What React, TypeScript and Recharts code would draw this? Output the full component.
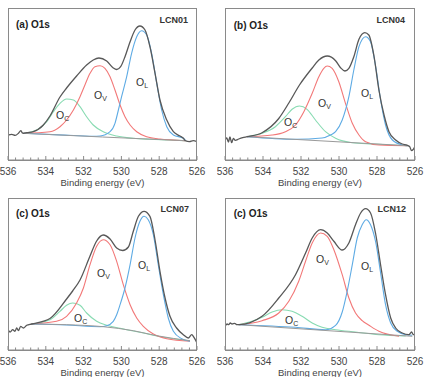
import { LineChart, Line, XAxis, YAxis, Label } from 'recharts';

type Pair = [number, number];

// binding energy (eV) / intensity (a.u.) pairs
const envA: Pair[] = [
  [536.0, 25.0], [535.8, 25.7], [535.62, 24.7], [535.45, 26.7], [535.32, 29.3], [535.25, 27.3],
  [535.19, 26.7], [535.0, 27.3], [534.66, 28.3], [534.13, 35.0], [533.78, 44.0], [533.25, 63.0],
  [532.9, 72.0], [532.37, 84.0], [531.84, 95.0], [531.49, 100.0], [531.19, 102.0], [530.78, 99.0],
  [530.43, 92.0], [530.25, 90.5], [530.04, 93.3], [529.81, 103.3], [529.54, 118.3], [529.28, 130.0],
  [529.02, 134.0], [528.75, 130.0], [528.49, 113.3], [528.22, 86.7], [527.96, 60.0], [527.6, 40.0],
  [527.25, 28.3], [526.9, 24.0], [526.72, 21.7], [526.62, 19.3], [526.4, 18.3], [526.2, 19.3], [526.0, 18.3],
];
const ocA: Pair[] = [
  [535.19, 26.7], [534.48, 30.0], [533.95, 38.3], [533.6, 48.3], [533.25, 56.7], [532.9, 61.0],
  [532.54, 60.0], [532.19, 53.3], [531.84, 43.3], [531.49, 35.0], [530.96, 28.3], [530.25, 24.0],
  [529.37, 21.7], [528.49, 20.7], [527.5, 20.0], [526.62, 19.3],
];
const ovA: Pair[] = [
  [535.19, 26.7], [533.78, 28.3], [533.25, 33.3], [532.9, 40.0], [532.54, 50.0], [532.19, 63.3],
  [531.93, 75.0], [531.66, 86.7], [531.4, 93.3], [531.13, 94.3], [530.87, 91.7], [530.6, 83.3],
  [530.34, 70.0], [530.07, 55.0], [529.81, 43.3], [529.54, 35.0], [529.19, 28.3], [528.66, 23.3],
  [527.96, 21.0], [527.25, 20.0], [526.62, 19.3],
];
const olA: Pair[] = [
  [535.19, 26.7], [533.0, 24.9], [531.5, 23.8], [531.13, 24.0], [530.6, 28.3], [530.34, 36.7],
  [530.16, 50.0], [529.99, 63.3], [529.72, 83.3], [529.46, 106.7], [529.19, 123.3], [528.93, 129.3],
  [528.66, 125.0], [528.4, 106.7], [528.13, 76.7], [527.87, 50.0], [527.6, 33.3], [527.25, 25.0],
  [526.72, 21.7], [526.62, 20.0],
];
const bgA: Pair[] = [[535.19, 26.7], [531.0, 23.0], [526.62, 19.3]];

const envB: Pair[] = [
  [536.0, 20.0], [535.91, 22.0], [535.82, 18.0], [535.74, 23.0], [535.65, 17.3], [535.56, 21.7],
  [535.46, 19.7], [535.28, 21.0], [535.07, 22.3], [534.84, 23.3], [534.05, 27.3], [533.17, 41.5],
  [532.64, 57.0], [532.08, 75.0], [531.41, 92.0], [531.06, 100.0], [530.62, 104.0], [530.18, 99.3],
  [529.92, 92.3], [529.69, 89.0], [529.48, 91.7], [529.22, 103.3], [528.95, 120.7], [528.64, 127.3],
  [528.43, 125.0], [528.16, 104.0], [527.9, 70.0], [527.63, 45.0], [527.37, 28.3], [527.02, 20.0],
  [526.67, 16.0], [526.4, 14.7], [526.28, 13.3], [526.18, 9.3], [526.09, 10.7], [526.0, 13.3],
];
const ocB: Pair[] = [
  [534.84, 23.3], [534.05, 26.7], [533.35, 33.3], [532.82, 43.3], [532.47, 50.7], [532.08, 54.0],
  [531.68, 50.7], [531.24, 40.0], [530.71, 28.3], [530.18, 21.7], [529.3, 17.3], [528.25, 16.0], [526.4, 14.3],
];
const ovB: Pair[] = [
  [534.84, 23.3], [533.52, 25.0], [532.82, 28.3], [532.29, 35.0], [531.85, 48.3], [531.41, 66.7],
  [531.06, 83.3], [530.8, 91.7], [530.62, 94.0], [530.36, 91.7], [530.01, 78.3], [529.66, 56.7],
  [529.3, 36.7], [528.95, 25.0], [528.6, 18.3], [527.9, 15.0], [526.4, 14.3],
];
const olB: Pair[] = [
  [534.84, 23.3], [532.29, 20.7], [530.89, 22.0], [530.45, 25.0], [530.18, 28.3], [529.83, 40.0],
  [529.48, 63.3], [529.22, 90.0], [528.95, 113.3], [528.6, 123.3], [528.34, 118.3], [528.07, 93.3],
  [527.81, 60.0], [527.55, 35.0], [527.19, 20.0], [526.67, 15.0], [526.4, 14.3],
];
const bgB: Pair[] = [[534.84, 23.3], [526.4, 14.3]];

const envC: Pair[] = [
  [536.0, 20.3], [535.89, 18.0], [535.75, 20.3], [535.63, 18.7], [535.54, 22.0], [535.45, 19.3],
  [535.33, 23.7], [535.19, 22.0], [535.01, 24.7], [534.75, 26.0], [533.78, 31.5], [532.9, 51.0],
  [532.58, 59.0], [532.19, 70.0], [531.66, 94.0], [531.31, 109.0], [530.96, 115.0], [530.6, 111.0],
  [530.25, 102.0], [529.93, 99.5], [529.63, 103.0], [529.37, 118.7], [529.1, 133.7], [528.8, 138.7],
  [528.49, 133.7], [528.22, 110.0], [527.96, 78.7], [527.69, 52.0], [527.43, 33.7], [527.08, 22.0],
  [526.72, 15.3], [526.46, 12.0], [526.28, 15.3], [526.16, 12.7], [526.0, 7.0],
];
const ocC: Pair[] = [
  [534.75, 26.0], [533.78, 30.3], [533.25, 38.7], [532.9, 44.7], [532.58, 47.0], [532.19, 44.7],
  [531.84, 37.0], [531.31, 28.7], [530.78, 24.7], [530.07, 21.7], [529.02, 17.7], [527.6, 12.3], [526.37, 9.3],
];
const ovC: Pair[] = [
  [534.75, 26.0], [533.43, 28.7], [532.9, 33.7], [532.37, 47.0], [532.01, 62.0], [531.66, 85.3],
  [531.31, 103.7], [530.96, 110.3], [530.6, 105.3], [530.25, 88.7], [529.9, 65.3], [529.54, 45.3],
  [529.19, 32.0], [528.84, 23.7], [528.31, 16.0], [527.6, 11.3], [526.37, 8.7],
];
const olC: Pair[] = [
  [534.75, 26.0], [532.9, 25.0], [531.13, 23.3], [530.78, 24.3], [530.43, 28.7], [530.25, 35.3],
  [530.07, 45.3], [529.81, 62.0], [529.54, 85.3], [529.28, 112.0], [529.02, 128.7], [528.8, 133.7],
  [528.58, 130.3], [528.31, 115.3], [528.05, 85.3], [527.78, 55.3], [527.52, 32.0], [527.25, 18.7],
  [526.81, 11.3], [526.37, 8.7],
];
const bgC: Pair[] = [[534.75, 26.0], [532.9, 25.3], [530.96, 23.3], [529.37, 19.3], [528.13, 14.3], [526.37, 9.3]];

const envD: Pair[] = [
  [536.0, 23.7], [535.89, 26.0], [535.81, 25.3], [535.72, 27.0], [535.63, 26.0], [535.49, 26.7],
  [535.37, 25.3], [535.28, 25.3], [534.05, 33.7], [533.17, 52.0], [532.29, 75.3], [531.76, 97.0],
  [531.41, 112.0], [530.97, 120.3], [530.62, 117.0], [530.27, 108.7], [529.83, 100.0], [529.48, 107.0],
  [529.13, 125.3], [528.86, 137.0], [528.6, 141.3], [528.34, 137.0], [528.07, 116.0], [527.81, 85.0],
  [527.55, 55.3], [527.28, 32.0], [527.02, 22.0], [526.67, 17.0], [526.32, 15.3], [526.18, 18.0],
  [526.09, 15.3], [526.0, 16.0],
];
const ocD: Pair[] = [
  [535.28, 25.3], [534.58, 28.7], [534.05, 32.7], [533.52, 38.0], [532.99, 40.3], [532.47, 38.7],
  [531.94, 33.7], [531.41, 27.0], [530.89, 22.7], [530.18, 20.3], [529.13, 18.0], [527.9, 15.3], [526.49, 14.0],
];
const ovD: Pair[] = [
  [535.28, 25.3], [534.05, 29.3], [533.17, 37.0], [532.64, 48.7], [532.12, 68.7], [531.76, 88.7],
  [531.41, 107.0], [530.97, 117.0], [530.62, 113.7], [530.27, 100.3], [529.83, 75.3], [529.48, 52.0],
  [529.13, 37.0], [528.78, 29.3], [528.42, 24.7], [527.9, 18.7], [526.84, 13.7],
];
const olD: Pair[] = [
  [535.28, 25.3], [532.29, 22.7], [530.71, 20.3], [530.18, 24.7], [529.83, 38.0], [529.57, 58.7],
  [529.3, 85.3], [529.04, 112.0], [528.78, 125.3], [528.57, 130.3], [528.34, 125.3], [528.07, 108.0],
  [527.81, 77.0], [527.55, 45.3], [527.28, 27.0], [526.93, 18.7], [526.49, 15.3], [526.14, 14.7],
];
const bgD: Pair[] = [[535.28, 25.3], [526.14, 13.7]];

const majorTicks = [536, 534, 532, 530, 528, 526];
const minorTicks = [
  535.6, 535.2, 534.8, 534.4, 533.6, 533.2, 532.8, 532.4, 531.6, 531.2,
  530.8, 530.4, 529.6, 529.2, 528.8, 528.4, 527.6, 527.2, 526.8, 526.4,
];
const allTicks = [...majorTicks, ...minorTicks].sort((a, b) => b - a);

const titles = ['(a) O1s', '(b) O1s', '(c) O1s', '(c) O1s'];
const samples = ['LCN01', 'LCN04', 'LCN07', 'LCN12'];

const FONT = '"Liberation Sans", Arial, sans-serif';
const AXIS = '#8a8a8a';
const C_ENV = '#585858';
const C_OV = '#f27878';
const C_OL = '#5eabe4';
const C_OC = '#88dbb2';
const C_BG = '#9a9a9a';

const CHART_H = 190;
const MARGIN_TOP = 8;
const MARGIN_LEFT = 8;
const AXIS_H = 30;

const toPoints = (pairs: Pair[]) => pairs.map(([e, v]) => ({ e, v }));

const EnergyTick = (props: any) => {
  const { x, y, payload } = props;
  const major = majorTicks.includes(payload.value);
  return (
    <g>
      <line x1={x} y1={y} x2={x} y2={y - (major ? 4 : 2.5)} stroke={AXIS} strokeWidth={1} />
      {major && (
        <text x={x} y={y + 15} textAnchor="middle" fontSize={10} fill="#444" fontFamily={FONT}>
          {payload.value}
        </text>
      )}
    </g>
  );
};

const OLabel = ({ x, y, sub }: { x: number; y: number; sub: string }) => (
  <text x={x - 4} y={y + 3.8} fontSize={10.5} fill="#333" fontFamily={FONT}>
    O
    <tspan dy={2.5} fontSize={7}>{sub}</tspan>
  </text>
);

interface PanelProps {
  left: number;
  top: number;
  width: number;
  marginRight: number;
  env: Pair[];
  oc: Pair[];
  ov: Pair[];
  ol: Pair[];
  bg: Pair[];
  title: string;
  sample: string;
  titleX: number;
  titleY: number;
  sampleX: number;
  sampleY: number;
  ocPos: [number, number];
  ovPos: [number, number];
  olPos: [number, number];
}

const Panel = (p: PanelProps) => {
  const plotW = p.width - MARGIN_LEFT - p.marginRight;
  const plotH = CHART_H - MARGIN_TOP - AXIS_H;
  return (
    <div style={{ position: 'absolute', left: p.left, top: p.top, width: p.width, height: CHART_H }}>
      <LineChart
        width={p.width}
        height={CHART_H}
        margin={{ top: MARGIN_TOP, right: p.marginRight, left: MARGIN_LEFT, bottom: 0 }}
      >
        <XAxis
          dataKey="e"
          type="number"
          domain={[526, 536]}
          reversed
          allowDataOverflow
          ticks={allTicks}
          interval={0}
          tickSize={0}
          tickMargin={0}
          tick={<EnergyTick />}
          tickLine={false}
          axisLine={{ stroke: AXIS }}
          height={AXIS_H}
        >
          <Label
            value="Binding energy (eV)"
            position="insideBottom"
            offset={4.5}
            fontSize={9.5}
            fill="#444"
            fontFamily={FONT}
          />
        </XAxis>
        <YAxis type="number" domain={[0, 152]} hide allowDataOverflow />
        <Line data={toPoints(p.oc)} dataKey="v" type="monotone" dot={false} stroke={C_OC} strokeWidth={1.1} isAnimationActive={false} />
        <Line data={toPoints(p.ov)} dataKey="v" type="monotone" dot={false} stroke={C_OV} strokeWidth={1.1} isAnimationActive={false} />
        <Line data={toPoints(p.ol)} dataKey="v" type="monotone" dot={false} stroke={C_OL} strokeWidth={1.1} isAnimationActive={false} />
        <Line data={toPoints(p.bg)} dataKey="v" type="monotone" dot={false} stroke={C_BG} strokeWidth={1} isAnimationActive={false} />
        <Line data={toPoints(p.env)} dataKey="v" type="monotone" dot={false} stroke={C_ENV} strokeWidth={1.3} isAnimationActive={false} />
      </LineChart>
      <svg width={p.width} height={CHART_H} style={{ position: 'absolute', left: 0, top: 0, pointerEvents: 'none' }}>
        <rect
          x={MARGIN_LEFT + 0.5}
          y={MARGIN_TOP + 0.5}
          width={plotW - 1}
          height={plotH}
          fill="none"
          stroke={AXIS}
          strokeWidth={1}
        />
        <text x={p.titleX} y={p.titleY} fontSize={10} fontWeight="bold" fill="#222" fontFamily={FONT}>
          {p.title}
        </text>
        <text x={p.sampleX} y={p.sampleY} fontSize={9} fontWeight="bold" fill="#333" textAnchor="end" fontFamily={FONT}>
          {p.sample}
        </text>
        <OLabel x={p.ocPos[0]} y={p.ocPos[1]} sub="C" />
        <OLabel x={p.ovPos[0]} y={p.ovPos[1]} sub="V" />
        <OLabel x={p.olPos[0]} y={p.olPos[1]} sub="L" />
      </svg>
    </div>
  );
};

export default function App() {
  return (
    <div
      style={{
        position: 'absolute',
        left: 0,
        top: 0,
        width: 425,
        height: 377,
        overflow: 'hidden',
        background: '#fff',
        fontFamily: FONT,
      }}
    >
      <Panel
        left={0} top={0} width={212} marginRight={15}
        env={envA} oc={ocA} ov={ovA} ol={olA} bg={bgA}
        title={titles[0]} sample={samples[0]}
        titleX={16} titleY={28} sampleX={188} sampleY={22.5}
        ocPos={[60, 115]} ovPos={[98, 95]} olPos={[140, 82]}
      />
      <Panel
        left={217} top={0} width={208} marginRight={10}
        env={envB} oc={ocB} ov={ovB} ol={olB} bg={bgB}
        title={titles[1]} sample={samples[1]}
        titleX={16.7} titleY={29} sampleX={188} sampleY={22.5}
        ocPos={[71, 122]} ovPos={[105, 103]} olPos={[148, 93]}
      />
      <Panel
        left={0} top={190} width={212} marginRight={15}
        env={envC} oc={ocC} ov={ovC} ol={olC} bg={bgC}
        title={titles[2]} sample={samples[2]}
        titleX={16} titleY={27} sampleX={189} sampleY={22}
        ocPos={[78, 128]} ovPos={[101, 83]} olPos={[142, 75]}
      />
      <Panel
        left={217} top={190} width={208} marginRight={10}
        env={envD} oc={ocD} ov={ovD} ol={olD} bg={bgD}
        title={titles[3]} sample={samples[3]}
        titleX={16.7} titleY={27} sampleX={189} sampleY={22}
        ocPos={[72, 130]} ovPos={[103, 69]} olPos={[148, 76]}
      />
    </div>
  );
}
